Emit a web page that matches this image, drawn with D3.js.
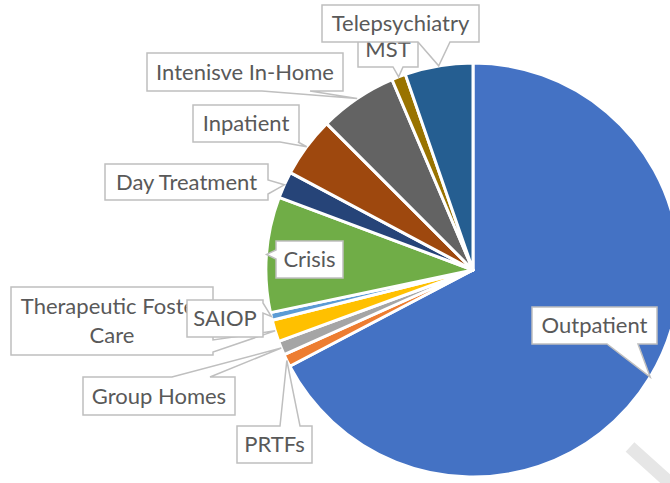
<!DOCTYPE html>
<html>
<head>
<meta charset="utf-8">
<style>
    body { margin: 0; background: #fff; }
    svg { display: block; overflow: hidden; }
    .callout { fill: #fff; stroke: #bfbfbf; stroke-width: 1.5; }
    .callout-text { font-family: Lato, 'Open Sans', sans-serif; font-size: 22px; fill: #595959; }
</style>
</head>
<body>
<svg width="670" height="483"></svg>
<script src="https://d3js.org/d3.v7.min.js"></script>
<script>
    // services, clockwise from 12 o'clock
    let services = ["Outpatient", "PRTFs", "Group Homes", "SAIOP", "Therapeutic Foster Care",
        "Crisis", "Day Treatment", "Inpatient", "Intenisve In-Home", "MST", "Telepsychiatry"]
    // share of total (%)
    let shares = [67.3, 1.0, 1.1, 1.7, 0.6, 9.0, 2.1, 4.7, 6.1, 1.1, 5.3]
    let colors = ["#4472c4", "#ed7d31", "#a5a5a5", "#ffc000", "#5b9bd5",
        "#70ad47", "#264478", "#9e480e", "#636363", "#997300", "#255e91"]

    let cx = 473, cy = 270, r = 207

    let svg = d3.select("svg")

    let pie = d3.pie().sort(null).value(d => d.value)
    let arc = d3.arc().innerRadius(0).outerRadius(r)
    let edge = d3.arc().innerRadius(r).outerRadius(r)

    let rows = services.map((s, i) => ({ name: s, value: shares[i] }))
    let arcs = pie(rows)

    let g = svg.append("g").attr("transform", `translate(${cx},${cy})`)

    g.selectAll("path")
        .data(arcs)
        .join("path")
        .attr("d", arc)
        .attr("fill", (d, i) => colors[i])
        .attr("stroke", "#fff")
        .attr("stroke-width", 3)
        .attr("stroke-linejoin", "round")

    // callout boxes: box, side of the pointer and where it leaves the box, slice it points at
    let callouts = [
        { text: ["Outpatient"], box: [532, 307, 125, 37], side: "bottom", base: [607, 638], target: "Outpatient" },
        { text: ["PRTFs"], box: [237, 426, 75, 37], side: "top", base: [280, 300], target: "PRTFs" },
        { text: ["Group Homes"], box: [83, 377, 152, 38], side: "top", base: [172, 210], target: "Group Homes" },
        { text: ["Therapeutic Foster", "Care"], box: [11, 287, 202, 68], side: "right", base: [340, 352], target: "SAIOP" },
        { text: ["SAIOP"], box: [187, 300, 76, 37], side: "right", base: [303, 313], target: "Therapeutic Foster Care" },
        { text: ["Crisis"], box: [276, 241, 67, 37], side: "left", base: [250, 259], target: "Crisis" },
        { text: ["Day Treatment"], box: [105, 164, 163, 36], side: "right", base: [180, 194], target: "Day Treatment" },
        { text: ["Inpatient"], box: [193, 105, 106, 37], side: "bottom", base: [280, 298], target: "Inpatient" },
        { text: ["Intenisve In-Home"], box: [147, 53, 196, 38], side: "bottom", base: [262, 310], target: "Intenisve In-Home" },
        { text: ["MST"], box: [358, 31, 60, 36], side: "bottom", base: [393, 403], target: "MST" },
        { text: ["Telepsychiatry"], box: [322, 5, 157, 37], side: "bottom", base: [418, 450], target: "Telepsychiatry" }
    ]

    function tipOf(name) {
        let a = arcs.find(d => d.data.name == name)
        let p = edge.centroid(a)
        return [cx + p[0], cy + p[1]]
    }

    function calloutPath(c) {
        let [x, y, w, h] = c.box
        let [a, b] = c.base
        let t = tipOf(c.target)
        let p = d3.path()
        p.moveTo(x, y)
        if (c.side == "top") { p.lineTo(a, y); p.lineTo(t[0], t[1]); p.lineTo(b, y) }
        p.lineTo(x + w, y)
        if (c.side == "right") { p.lineTo(x + w, a); p.lineTo(t[0], t[1]); p.lineTo(x + w, b) }
        p.lineTo(x + w, y + h)
        if (c.side == "bottom") { p.lineTo(b, y + h); p.lineTo(t[0], t[1]); p.lineTo(a, y + h) }
        p.lineTo(x, y + h)
        if (c.side == "left") { p.lineTo(x, b); p.lineTo(t[0], t[1]); p.lineTo(x, a) }
        p.closePath()
        return p.toString()
    }

    let labels = svg.append("g")
        .selectAll("g")
        .data(callouts)
        .join("g")

    labels.append("path")
        .attr("class", "callout")
        .attr("d", calloutPath)

    labels.each(function (c) {
        let [x, y, w, h] = c.box
        let lh = 29
        let top = y + h / 2 - (c.text.length - 1) * lh / 2
        d3.select(this).selectAll("text")
            .data(c.text)
            .join("text")
            .attr("class", "callout-text")
            .attr("x", x + w / 2)
            .attr("y", (d, i) => top + i * lh)
            .attr("dy", "0.36em")
            .attr("text-anchor", "middle")
            .text(d => d)
    })

    // faint mark in the lower right corner
    svg.append("line")
        .attr("x1", 630).attr("y1", 447)
        .attr("x2", 680).attr("y2", 492)
        .attr("stroke", "#e6e6e6")
        .attr("stroke-width", 13)
</script>
</body>
</html>
